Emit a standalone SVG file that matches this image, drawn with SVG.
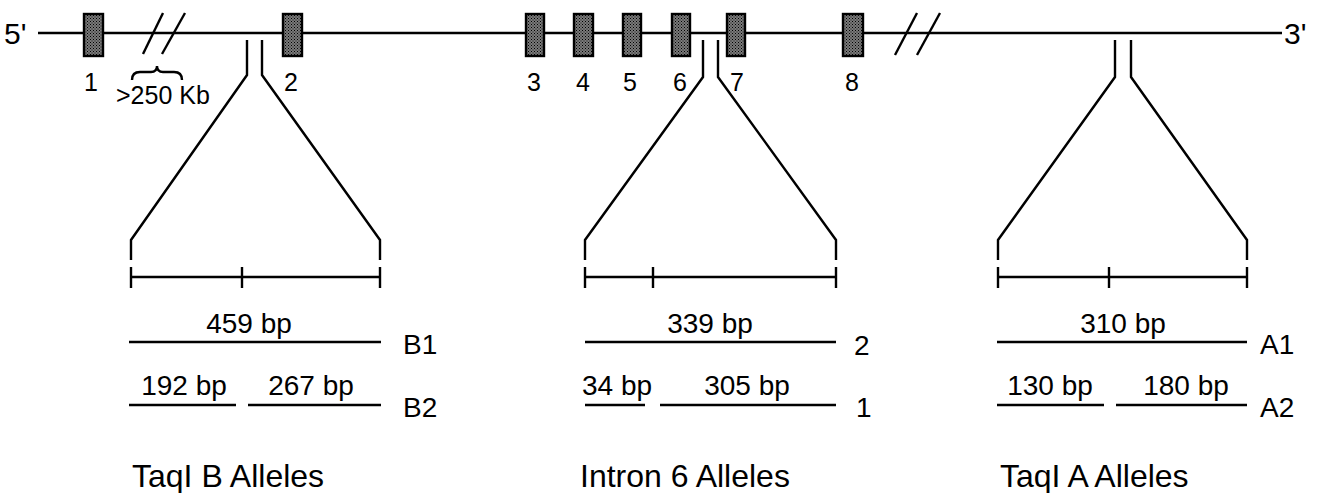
<svg xmlns="http://www.w3.org/2000/svg" width="1320" height="493" viewBox="0 0 1320 493">
  <defs>
    <pattern id="stipple" width="3" height="3" patternUnits="userSpaceOnUse">
      <rect width="3" height="3" fill="#7a7a7a"/>
      <rect x="0" y="0" width="1" height="1" fill="#000"/>
      <rect x="1.5" y="1.5" width="1" height="1" fill="#111"/>
    </pattern>
  </defs>
  <style>
    .ln { stroke: #000; stroke-width: 2.4; fill: none; stroke-linecap: butt; }
    .exon { fill: url(#stipple); stroke: #000; stroke-width: 2.4; }
    text { font-family: "Liberation Sans", Arial, Helvetica, sans-serif; fill: #000; }
    .num { font-size: 25px; text-anchor: middle; }
    .bp { font-size: 28px; text-anchor: middle; }
    .al { font-size: 28px; }
    .title { font-size: 32px; }
    .end { font-size: 30px; }
  </style>
  <rect width="1320" height="493" fill="#fff"/>

  <!-- gene backbone -->
  <g id="backbone">
    <line class="ln" x1="38" y1="33" x2="1282" y2="33"/>
    <text class="end" x="4" y="44">5'</text>
    <text class="end" x="1284" y="44">3'</text>
    <!-- breaks -->
    <line class="ln" x1="143" y1="54" x2="163" y2="13"/>
    <line class="ln" x1="162" y1="54" x2="185" y2="13"/>
    <line class="ln" x1="895" y1="55" x2="917" y2="13"/>
    <line class="ln" x1="917" y1="55" x2="940" y2="13"/>
    <!-- gap brace -->
    <path class="ln" d="M132,80 Q132,72 140,72 L151,72 Q157,72 157,66 Q157,72 163,72 L174,72 Q182,72 182,80"/>
    <text x="116" y="104" font-size="25">&gt;250 Kb</text>
  </g>

  <!-- exons -->
  <g id="exon1"><rect class="exon" x="84" y="14" width="19" height="42"/><text class="num" x="91" y="91">1</text></g>
  <g id="exon2"><rect class="exon" x="283" y="14" width="19" height="42"/><text class="num" x="291" y="91">2</text></g>
  <g id="exon3"><rect class="exon" x="526" y="14" width="18" height="42"/><text class="num" x="534" y="91">3</text></g>
  <g id="exon4"><rect class="exon" x="574" y="14" width="19" height="42"/><text class="num" x="583" y="91">4</text></g>
  <g id="exon5"><rect class="exon" x="623" y="14" width="18" height="42"/><text class="num" x="630" y="91">5</text></g>
  <g id="exon6"><rect class="exon" x="672" y="14" width="18" height="42"/><text class="num" x="680" y="91">6</text></g>
  <g id="exon7"><rect class="exon" x="727" y="14" width="18" height="42"/><text class="num" x="737" y="91">7</text></g>
  <g id="exon8"><rect class="exon" x="843" y="14" width="20" height="42"/><text class="num" x="852" y="91">8</text></g>

  <!-- expansion funnels -->
  <g id="connectors">
    <polyline class="ln" points="247,40 247,75 131,240 131,260"/>
    <polyline class="ln" points="262,40 262,75 380,240 380,260"/>
    <polyline class="ln" points="703,40 703,77 585,240 585,260"/>
    <polyline class="ln" points="718,40 718,77 836,240 836,260"/>
    <polyline class="ln" points="1115,40 1115,77 998,240 998,260"/>
    <polyline class="ln" points="1131,40 1131,77 1247,240 1247,260"/>
  </g>

  <!-- restriction maps -->
  <g id="map-taqIB">
    <line class="ln" x1="131" y1="277" x2="380" y2="277"/>
    <line class="ln" x1="131" y1="267" x2="131" y2="288"/>
    <line class="ln" x1="242" y1="267" x2="242" y2="288"/>
    <line class="ln" x1="380" y1="267" x2="380" y2="288"/>
  </g>
  <g id="map-intron6">
    <line class="ln" x1="585" y1="277" x2="836" y2="277"/>
    <line class="ln" x1="585" y1="267" x2="585" y2="288"/>
    <line class="ln" x1="653" y1="267" x2="653" y2="288"/>
    <line class="ln" x1="836" y1="267" x2="836" y2="288"/>
  </g>
  <g id="map-taqIA">
    <line class="ln" x1="998" y1="277" x2="1247" y2="277"/>
    <line class="ln" x1="998" y1="267" x2="998" y2="288"/>
    <line class="ln" x1="1109" y1="267" x2="1109" y2="288"/>
    <line class="ln" x1="1247" y1="267" x2="1247" y2="288"/>
  </g>

  <!-- TaqI B alleles -->
  <g id="alleles-taqIB">
    <text class="bp" x="249" y="333">459 bp</text>
    <line class="ln" x1="129" y1="342" x2="381" y2="342"/>
    <text class="al" x="403" y="354">B1</text>
    <text class="bp" x="184" y="395">192 bp</text>
    <text class="bp" x="311" y="395">267 bp</text>
    <line class="ln" x1="129" y1="405" x2="236" y2="405"/>
    <line class="ln" x1="248" y1="405" x2="381" y2="405"/>
    <text class="al" x="403" y="417">B2</text>
    <text class="title" x="132" y="487">TaqI B Alleles</text>
  </g>

  <!-- intron 6 alleles -->
  <g id="alleles-intron6">
    <text class="bp" x="710" y="333">339 bp</text>
    <line class="ln" x1="585" y1="342" x2="836" y2="342"/>
    <text class="al" x="854" y="355">2</text>
    <text class="bp" x="617" y="395">34 bp</text>
    <text class="bp" x="747" y="395">305 bp</text>
    <line class="ln" x1="585" y1="405" x2="645" y2="405"/>
    <line class="ln" x1="660" y1="405" x2="836" y2="405"/>
    <text class="al" x="856" y="417">1</text>
    <text class="title" x="580" y="487">Intron 6 Alleles</text>
  </g>

  <!-- TaqI A alleles -->
  <g id="alleles-taqIA">
    <text class="bp" x="1123" y="333">310 bp</text>
    <line class="ln" x1="997" y1="342" x2="1247" y2="342"/>
    <text class="al" x="1260" y="354">A1</text>
    <text class="bp" x="1050" y="395">130 bp</text>
    <text class="bp" x="1186" y="395">180 bp</text>
    <line class="ln" x1="997" y1="405" x2="1104" y2="405"/>
    <line class="ln" x1="1116" y1="405" x2="1247" y2="405"/>
    <text class="al" x="1260" y="417">A2</text>
    <text class="title" x="1000" y="487">TaqI A Alleles</text>
  </g>
</svg>
